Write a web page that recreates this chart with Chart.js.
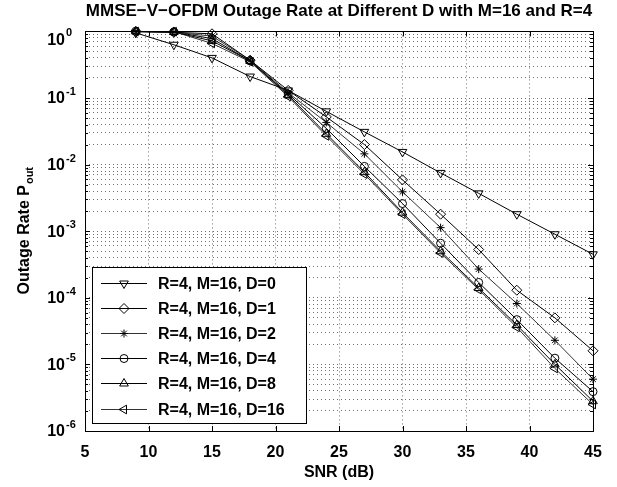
<!DOCTYPE html>
<html>
<head>
<meta charset="utf-8">
<script src="https://cdn.jsdelivr.net/npm/chart.js@4.4.1/dist/chart.umd.min.js"></script>
<style>
  body { margin: 0; background: #fff; }
  #chart { display: block; }
</style>
</head>
<body>
<canvas id="chart" width="617" height="487"></canvas>
<script>
'use strict';

const FONT = "'Liberation Sans', Arial, sans-serif";

// SNR in dB
const snr = [9, 12, 15, 18, 21, 24, 27, 30, 33, 36, 39, 42, 45];

// outage rate
const outD0 = [0.95, 0.63, 0.40, 0.21, 0.13, 0.063, 0.031, 0.0155, 0.0075, 0.0037, 0.0018, 0.0009, 0.00045];
const outD1 = [0.99, 0.97, 0.92, 0.37, 0.13, 0.052, 0.020, 0.0059, 0.0018, 0.00053, 0.00013, 5.0e-5, 1.6e-5];
const outD2 = [0.99, 0.97, 0.85, 0.37, 0.12, 0.043, 0.0145, 0.0039, 0.00113, 0.00027, 8.2e-5, 2.3e-5, 6.0e-6];
const outD4 = [1.0, 0.98, 0.78, 0.36, 0.115, 0.035, 0.0094, 0.0026, 0.00066, 0.00017, 4.7e-5, 1.24e-5, 3.9e-6];
const outD8 = [1.0, 0.98, 0.72, 0.36, 0.11, 0.029, 0.0077, 0.0019, 0.00050, 0.00014, 3.9e-5, 1.0e-5, 2.8e-6];
const outD16 = [1.0, 0.99, 0.66, 0.35, 0.105, 0.027, 0.0072, 0.0018, 0.00047, 0.000133, 3.6e-5, 8.7e-6, 2.5e-6];

const seriesNames = ['R=4, M=16, D=0', 'R=4, M=16, D=1', 'R=4, M=16, D=2', 'R=4, M=16, D=4', 'R=4, M=16, D=8', 'R=4, M=16, D=16'];
const seriesData = [outD0, outD1, outD2, outD4, outD8, outD16];
const markers = [
  { style: 'triangle', rot: 180, r: 5 },
  { style: 'rectRot', rot: 0, r: 5 },
  { style: 'star', rot: 0, r: 4 },
  { style: 'circle', rot: 0, r: 4 },
  { style: 'triangle', rot: 0, r: 5 },
  { style: 'triangle', rot: 270, r: 5 }
];
const lineColors = ['#000', '#000', '#333', '#000', '#000', '#333'];

const xTicks = [5, 10, 15, 20, 25, 30, 35, 40, 45];
const yExponents = [0, -1, -2, -3, -4, -5, -6];

// log grid: 1..9 in every decade
let yGrid = [];
for (let e = -6; e < 0; e++) {
  for (let m = 1; m < 10; m++) {
    yGrid.push(m * Math.pow(10, e));
  }
}
yGrid.push(1);

let datasets = [];
for (let i = 0; i < seriesData.length; i++) {
  datasets.push({
    label: seriesNames[i],
    data: snr.map((s, j) => ({ x: s, y: seriesData[i][j] })),
    borderColor: lineColors[i],
    borderWidth: 1,
    pointStyle: markers[i].style,
    rotation: markers[i].rot,
    pointRadius: markers[i].r,
    pointBorderWidth: 1,
    pointBorderColor: '#000',
    pointBackgroundColor: 'rgba(0,0,0,0)',
    clip: false
  });
}

function drawMarker(ctx, m, x, y) {
  if (Chart.helpers && Chart.helpers.drawPoint) {
    Chart.helpers.drawPoint(ctx, { pointStyle: m.style, rotation: m.rot, radius: m.r, borderWidth: 1 }, x, y);
  }
}

const framePlugin = {
  id: 'frame',
  afterDraw(chart) {
    const ctx = chart.ctx;
    const a = chart.chartArea;
    const xs = chart.scales.x;
    const ys = chart.scales.y;
    ctx.save();
    ctx.strokeStyle = '#000';
    ctx.lineWidth = 1;

    // box
    ctx.strokeRect(Math.round(a.left) + 0.5, Math.round(a.top) + 0.5, Math.round(a.right - a.left), Math.round(a.bottom - a.top));

    // inward ticks
    ctx.beginPath();
    xTicks.forEach(v => {
      const px = Math.round(xs.getPixelForValue(v)) + 0.5;
      ctx.moveTo(px, a.bottom); ctx.lineTo(px, a.bottom - 5);
      ctx.moveTo(px, a.top); ctx.lineTo(px, a.top + 5);
    });
    yGrid.forEach(v => {
      const py = Math.round(ys.getPixelForValue(v)) + 0.5;
      const major = Math.abs(Math.log10(v) - Math.round(Math.log10(v))) < 1e-9;
      const len = major ? 5 : 3;
      ctx.moveTo(a.left, py); ctx.lineTo(a.left + len, py);
      ctx.moveTo(a.right, py); ctx.lineTo(a.right - len, py);
    });
    ctx.stroke();

    // y tick labels 10^n
    ctx.fillStyle = '#000';
    yExponents.forEach(e => {
      let py = ys.getPixelForValue(Math.pow(10, e)) + 1;
      if (e === 0) py += 8;
      ctx.font = 'bold 16px ' + FONT;
      ctx.textAlign = 'right';
      ctx.textBaseline = 'middle';
      ctx.fillText('10', 65, py);
      ctx.font = 'bold 11px ' + FONT;
      ctx.textAlign = 'left';
      ctx.fillText(String(e), 66, py - 7);
    });

    // y title with subscript
    ctx.save();
    ctx.translate(25, (a.top + a.bottom) / 2);
    ctx.rotate(-Math.PI / 2);
    ctx.textBaseline = 'middle';
    ctx.textAlign = 'left';
    ctx.font = 'bold 16px ' + FONT;
    const main = 'Outage Rate P';
    const w1 = ctx.measureText(main).width;
    ctx.font = 'bold 11px ' + FONT;
    const w2 = ctx.measureText('out').width;
    const start = -(w1 + w2) / 2;
    ctx.font = 'bold 16px ' + FONT;
    ctx.fillText(main, start, 0);
    ctx.font = 'bold 11px ' + FONT;
    ctx.fillText('out', start + w1 + 1, 5);
    ctx.restore();

    // legend
    const lx = 92, ly = 267, lw = 214, lh = 156;
    ctx.fillStyle = '#fff';
    ctx.fillRect(lx, ly, lw, lh);
    ctx.strokeStyle = '#000';
    ctx.strokeRect(lx + 0.5, ly + 0.5, lw, lh);
    for (let i = 0; i < seriesNames.length; i++) {
      const ry = Math.round(283 + i * 25.1) + 0.5;
      ctx.strokeStyle = lineColors[i];
      ctx.beginPath();
      ctx.moveTo(101, ry); ctx.lineTo(147, ry);
      ctx.stroke();
      ctx.strokeStyle = '#000';
      ctx.fillStyle = 'rgba(0,0,0,0)';
      drawMarker(ctx, markers[i], 124, ry);
      ctx.fillStyle = '#000';
      ctx.font = 'bold 16px ' + FONT;
      ctx.textAlign = 'left';
      ctx.textBaseline = 'middle';
      ctx.fillText(seriesNames[i], 158, ry + 1);
    }
    ctx.restore();
  }
};

const chart = new Chart(document.getElementById('chart').getContext('2d'), {
  type: 'line',
  data: { datasets: datasets },
  plugins: [framePlugin],
  options: {
    responsive: false,
    animation: false,
    devicePixelRatio: 1,
    layout: { padding: { left: 0, right: 24, top: 0, bottom: 0 } },
    plugins: {
      legend: { display: false },
      tooltip: { enabled: false },
      title: {
        display: true,
        text: 'MMSE\u2212V\u2212OFDM Outage Rate at Different D with M=16 and R=4',
        color: '#000',
        fullSize: false,
        font: { family: FONT, size: 17, weight: 'bold' },
        padding: { top: 1, bottom: 10 }
      }
    },
    scales: {
      x: {
        type: 'linear',
        min: 5,
        max: 45,
        afterFit(scale) { scale.height = 56; },
        ticks: {
          stepSize: 5,
          color: '#000',
          padding: 12,
          font: { family: FONT, size: 16, weight: 'bold' }
        },
        grid: { color: '#707070', drawTicks: false },
        border: { display: false, dash: [1, 3] },
        title: {
          display: true,
          text: 'SNR (dB)',
          color: '#000',
          font: { family: FONT, size: 16, weight: 'bold' },
          padding: { top: 0, bottom: 5 }
        }
      },
      y: {
        type: 'logarithmic',
        min: 1e-6,
        max: 1,
        afterFit(scale) { scale.width = 85; },
        afterBuildTicks(scale) { scale.ticks = yGrid.map(v => ({ value: v })); },
        ticks: { callback: () => '', autoSkip: false },
        grid: { color: '#707070', drawTicks: false },
        border: { display: false, dash: [1, 3] }
      }
    }
  }
});
</script>
</body>
</html>
